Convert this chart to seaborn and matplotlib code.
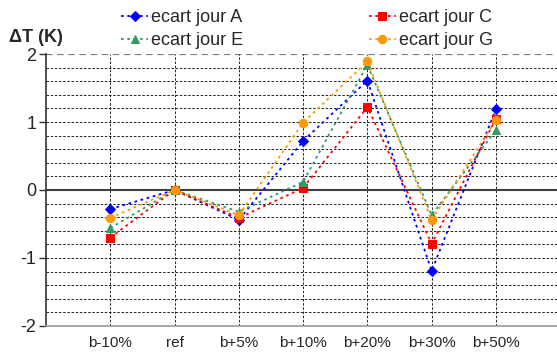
import seaborn as sns
import matplotlib.pyplot as plt
import pandas as pd
import numpy as np

# data
cases = ["b-10%", "ref", "b+5%", "b+10%", "b+20%", "b+30%", "b+50%"]
ecart_A = [-0.28, 0.0, -0.44, 0.72, 1.61, -1.19, 1.19]
ecart_C = [-0.70, 0.0, -0.41, 0.03, 1.22, -0.79, 1.05]
ecart_E = [-0.56, 0.0, -0.32, 0.12, 1.84, -0.37, 0.88]
ecart_G = [-0.41, 0.0, -0.37, 0.99, 1.89, -0.44, 1.03]

series = [
    ("ecart jour A", ecart_A, "#0000FF", "D", 5.0),
    ("ecart jour C", ecart_C, "#FF0000", "s", 5.8),
    ("ecart jour E", ecart_E, "#339966", "^", 6.0),
    ("ecart jour G", ecart_G, "#FF9900", "o", 6.0),
]

sns.set_style("white")
plt.rcParams["font.family"] = ["Liberation Sans", "DejaVu Sans"]
plt.rcParams["axes.unicode_minus"] = False

fig = plt.figure(figsize=(5.57, 3.56), dpi=100)
ax = fig.add_axes([0.0826, 0.0843, 0.9174, 0.764])

handles = {}
for name, vals, col, mk, ms in series:
    df = pd.DataFrame({"case": cases, "val": vals})
    sns.lineplot(data=df, x="case", y="val", ax=ax, color=col, marker=mk,
                 markersize=ms, markeredgecolor=col, linestyle=(0, (1.5, 2)),
                 linewidth=1.3, sort=False, label=name)
    handles[name] = ax.lines[-1]
ax.get_legend().remove()

ax.set_xlim(-1, 6.95)
ax.set_ylim(-2, 2)
ax.set_yticks([-2, -1, 0, 1, 2])
ax.set_xticks(range(len(cases)))
ax.set_xticklabels(cases, fontsize=11)
ax.tick_params(axis="y", which="major", labelsize=13, length=5, width=1,
               direction="out", left=True, color="#333333", pad=2)
ax.tick_params(axis="x", length=0, pad=7)
ax.set_xlabel("")
ax.set_ylabel("")

# dashed grid
for y in np.arange(-1.8, 2.01, 0.2):
    if abs(y) < 1e-6:
        continue
    gray = abs(y - 2) < 1e-6
    ax.axhline(y, color="#808080" if gray else "black", linestyle=(0, (3, 2)),
               linewidth=1.6 if gray else 0.6, zorder=0)
ax.axhline(0, color="#404040", linewidth=1.5, zorder=1)
for i in range(len(cases)):
    ax.axvline(i, color="black", linestyle=(0, (3, 2)), linewidth=0.6, zorder=0)

for s in ["top", "right"]:
    ax.spines[s].set_visible(False)
ax.spines["left"].set_color("#333333")
ax.spines["left"].set_linewidth(1.2)
ax.spines["bottom"].set_color("#999999")
ax.spines["bottom"].set_linewidth(1.2)

fig.text(0.065, 0.895, "\u0394T (K)", fontsize=13, fontweight="bold",
         ha="center", va="center")

order = ["ecart jour A", "ecart jour E", "ecart jour C", "ecart jour G"]
fig.legend([handles[n] for n in order], order, ncol=2, frameon=False,
           loc="upper left", bbox_to_anchor=(0.205, 0.995), fontsize=13,
           handlelength=1.5, handletextpad=0.15, columnspacing=6.95,
           labelspacing=0.35, borderaxespad=0)

plt.savefig("out.png", dpi=100)
